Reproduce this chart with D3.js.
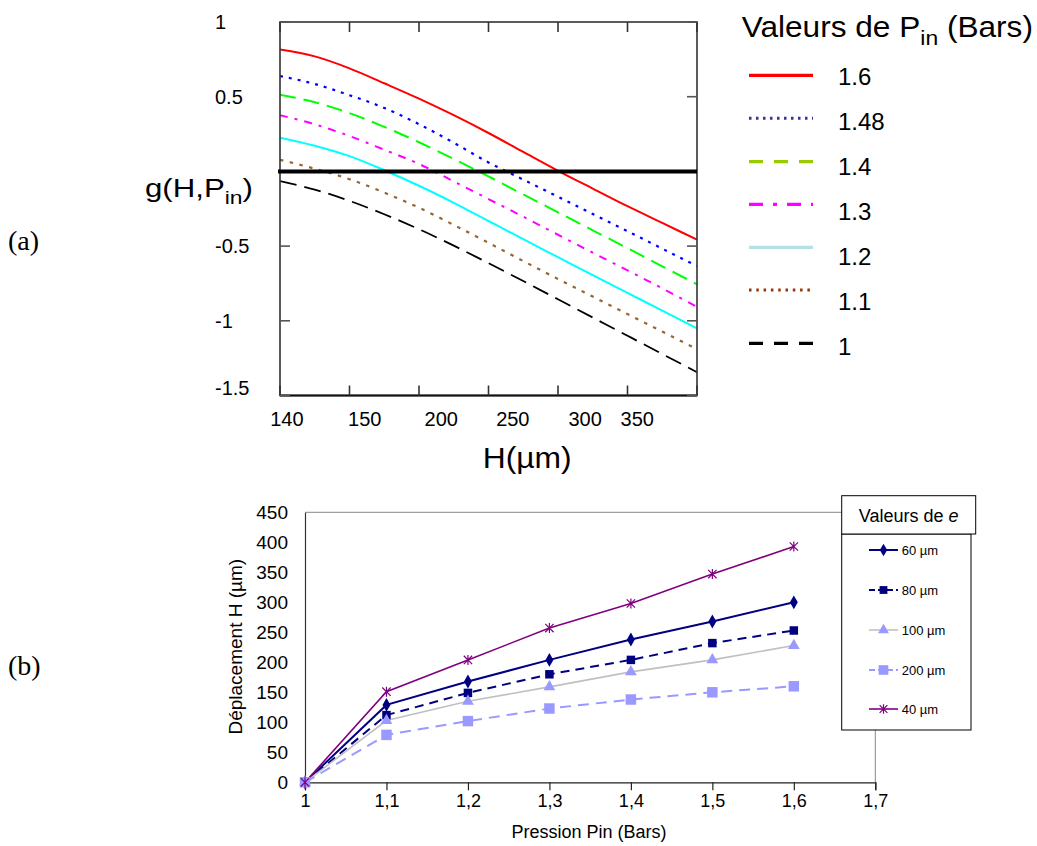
<!DOCTYPE html>
<html><head><meta charset="utf-8">
<script src="https://cdn.jsdelivr.net/npm/d3@7"></script>
<style>
body{margin:0;background:#fff}
svg{display:block}
text{font-family:"Liberation Sans",Arial,sans-serif;fill:#000}
</style>
</head><body>
<svg id="c" width="1037" height="846"></svg>
<script>
// ---------- Panel (a) data ----------
const hPos = [0,0.5,1,1.5,2,2.5,3,3.5,4,4.5,5,5.5,6];          // position along H axis (axis units)
const hTickMarks = [0,1,2,3,4,5,6];
const hTickLabels = ["140","150","200","250","300","350"];
const hTickLabelPos = [0.1,1.22,2.32,3.35,4.39,5.14];
const gTicks = [1,0.5,-0.5,-1,-1.5];
const gTickLabels = ["1","0.5","-0.5","-1","-1.5"];
const pinNames = ["1.6","1.48","1.4","1.3","1.2","1.1","1"];
const g_1_6  = [0.816,0.77,0.69,0.59,0.487,0.376,0.257,0.13,0.004,-0.115,-0.233,-0.345,-0.457];
const g_1_48 = [0.638,0.585,0.51,0.425,0.316,0.192,0.06,-0.055,-0.17,-0.285,-0.40,-0.517,-0.634];
const g_1_4  = [0.513,0.463,0.39,0.298,0.195,0.083,-0.034,-0.154,-0.274,-0.394,-0.514,-0.635,-0.756];
const g_1_3  = [0.376,0.315,0.237,0.145,0.05,-0.067,-0.185,-0.303,-0.424,-0.544,-0.662,-0.783,-0.906];
const g_1_2  = [0.226,0.172,0.102,0.008,-0.096,-0.21,-0.332,-0.454,-0.574,-0.694,-0.813,-0.932,-1.05];
const g_1_1  = [0.078,0.018,-0.052,-0.142,-0.243,-0.358,-0.478,-0.6,-0.72,-0.838,-0.955,-1.072,-1.19];
const g_1_0  = [-0.065,-0.122,-0.197,-0.287,-0.387,-0.497,-0.614,-0.734,-0.856,-0.978,-1.1,-1.222,-1.344];

// ---------- Panel (b) data ----------
const pressure = [1,1.1,1.2,1.3,1.4,1.5,1.6];
const pTicks = [1,1.1,1.2,1.3,1.4,1.5,1.6,1.7];
const pTickLabels = ["1","1,1","1,2","1,3","1,4","1,5","1,6","1,7"];
const hTicksB = [0,50,100,150,200,250,300,350,400,450];
const eNames = ["60 µm","80 µm","100 µm","200 µm","40 µm"];
const H_60  = [0,129,168,204,238,268,300];
const H_80  = [0,112,149,180,204,232,253];
const H_100 = [0,103,135,159,184,204,228];
const H_200 = [0,79,102,123,138,150,160];
const H_40  = [0,151,204,257,298,347,393];

const svg = d3.select("#c");

// helper: text horizontally fitted to a target width
function fitText(g, x0, x1){
  const bw = g.node().getBBox().width;
  const s = (x1-x0)/bw;
  g.attr("transform", g.attr("transform") + ` scale(${s},1)`);
}

// ================= Panel (a) =================
const xa = d3.scaleLinear().domain([0,6]).range([280,697]);
const ya = d3.scaleLinear().domain([-1.5,1]).range([395.5,22]);

svg.append("text").attr("x",8).attr("y",250).style("font-family","'Liberation Serif','Times New Roman',serif")
  .style("font-size","28px").text("(a)");

const A = svg.append("g");
A.append("defs").append("clipPath").attr("id","clipA").append("rect")
  .attr("x",xa(0)).attr("y",ya(1)).attr("width",xa(6)-xa(0)).attr("height",ya(-1.5)-ya(1));

const seriesA = [
  {name:pinNames[0], v:g_1_6,  color:"#ff0000", dash:null,        lw:2,   lc:"#ff0000", ld:null,            llw:3.2},
  {name:pinNames[1], v:g_1_48, color:"#0000ff", dash:"3,6",       lw:2.2, lc:"#333399", ld:"2.5,4.5",       llw:3},
  {name:pinNames[2], v:g_1_4,  color:"#00ff00", dash:"16,8",      lw:2,   lc:"#99cc00", ld:"14,11",         llw:3.2},
  {name:pinNames[3], v:g_1_3,  color:"#ff00ff", dash:"8,7,3,7",   lw:2,   lc:"#ff00ff", ld:"14,10,4,10",    llw:3.2},
  {name:pinNames[4], v:g_1_2,  color:"#00ffff", dash:null,        lw:2,   lc:"#b4e0e6", ld:null,            llw:3.2},
  {name:pinNames[5], v:g_1_1,  color:"#996633", dash:"3.5,6.5",   lw:2.2, lc:"#993300", ld:"2.5,4.8",       llw:3},
  {name:pinNames[6], v:g_1_0,  color:"#000000", dash:"17,8",      lw:1.8, lc:"#000000", ld:"14,11",         llw:3.2}
];

const lineA = d3.line().x((d,i)=>xa(hPos[i])).y(d=>ya(d)).curve(d3.curveMonotoneX);
const curves = A.append("g").attr("clip-path","url(#clipA)");
seriesA.forEach(s=>{
  curves.append("path").attr("d",lineA(s.v)).attr("fill","none")
    .attr("stroke",s.color).attr("stroke-width",s.lw)
    .attr("stroke-dasharray",s.dash);
});

// frame
A.append("rect").attr("x",xa(0)).attr("y",ya(1)).attr("width",xa(6)-xa(0)).attr("height",ya(-1.5)-ya(1))
  .attr("fill","none").attr("stroke","#333").attr("stroke-width",1.6);
A.append("line").attr("x1",xa(0)).attr("x2",xa(6)).attr("y1",ya(-1.5)).attr("y2",ya(-1.5))
  .attr("stroke","#111").attr("stroke-width",2.2);
// x tick marks (inward, top and bottom)
hTickMarks.forEach(t=>{
  A.append("line").attr("x1",xa(t)).attr("x2",xa(t)).attr("y1",ya(1)).attr("y2",ya(1)+10).attr("stroke","#333").attr("stroke-width",1.6);
  A.append("line").attr("x1",xa(t)).attr("x2",xa(t)).attr("y1",ya(-1.5)).attr("y2",ya(-1.5)-10).attr("stroke","#333").attr("stroke-width",1.6);
});
// y tick marks (inward)
gTicks.forEach(t=>{
  if (t!==0.5) A.append("line").attr("x1",xa(0)).attr("x2",xa(0)+10).attr("y1",ya(t)).attr("y2",ya(t)).attr("stroke","#555").attr("stroke-width",1.6);
  A.append("line").attr("x1",xa(6)).attr("x2",xa(6)-10).attr("y1",ya(t)).attr("y2",ya(t)).attr("stroke","#555").attr("stroke-width",1.6);
});
// zero reference line
A.append("line").attr("x1",xa(0)-2).attr("x2",xa(6)).attr("y1",ya(0)).attr("y2",ya(0))
  .attr("stroke","#000").attr("stroke-width",4);

// y tick labels
gTicks.forEach((t,i)=>{
  A.append("text").attr("x",215).attr("y",Math.min(ya(t), ya(-1.5)-8)).attr("dy","0.36em")
    .style("font-size","20px").text(gTickLabels[i]);
});
// x tick labels
hTickLabels.forEach((l,i)=>{
  A.append("text").attr("x",xa(hTickLabelPos[i])).attr("y",426).attr("text-anchor","middle")
    .style("font-size","20px").text(l);
});
// axis titles
{
  const g = A.append("g").attr("transform","translate(145,196.7)");
  const t = g.append("text").style("font-size","26px");
  t.append("tspan").text("g(H,P");
  t.append("tspan").attr("dy",7).style("font-size","19px").text("in");
  t.append("tspan").attr("dy",-7).text(")");
  fitText(g,145,253);
}
{
  const g = A.append("g").attr("transform","translate(482.7,467.7)");
  g.append("text").style("font-size","30px").text("H(µm)");
  fitText(g,482.7,571.7);
}
// legend
{
  const g = A.append("g").attr("transform","translate(741.7,36.7)");
  const t = g.append("text").style("font-size","29px");
  t.append("tspan").text("Valeurs de P");
  t.append("tspan").attr("dy",8).style("font-size","21px").text("in");
  t.append("tspan").attr("dy",-8).text(" (Bars)");
  fitText(g,741.7,1033);
}
const legLineY = [75.3,118.3,161.7,204.3,247.3,290,343.3];
seriesA.forEach((s,i)=>{
  A.append("line").attr("x1",749).attr("x2",813).attr("y1",legLineY[i]).attr("y2",legLineY[i])
    .attr("stroke",s.lc).attr("stroke-width",s.llw).attr("stroke-dasharray",s.ld);
  A.append("text").attr("x",838).attr("y",85+45*i).style("font-size","24px").text(s.name);
});

// ================= Panel (b) =================
svg.append("text").attr("x",8).attr("y",675).style("font-family","'Liberation Serif','Times New Roman',serif")
  .style("font-size","28px").text("(b)");

const xb = d3.scaleLinear().domain([1,1.7]).range([305,875.3]);
const yb = d3.scaleLinear().domain([0,450]).range([782.3,512.3]);
const B = svg.append("g");

// plot border (top & right, grey)
B.append("line").attr("x1",xb(1)).attr("x2",xb(1.7)).attr("y1",yb(450)).attr("y2",yb(450)).attr("stroke","#888").attr("stroke-width",1);
B.append("line").attr("x1",xb(1.7)).attr("x2",xb(1.7)).attr("y1",yb(450)).attr("y2",yb(0)).attr("stroke","#888").attr("stroke-width",1);

// axes
const yAxB = B.append("g").attr("transform",`translate(${xb(1)},0)`)
  .call(d3.axisLeft(yb).tickValues(hTicksB).tickSize(0).tickPadding(17));
yAxB.select(".domain").attr("stroke","#333").attr("stroke-width",1.2);
yAxB.selectAll("text").style("font-size","19px").style("font-family","'Liberation Sans',Arial,sans-serif").attr("fill","#000");

const xAxB = B.append("g").attr("transform",`translate(0,${yb(0)})`)
  .call(d3.axisBottom(xb).tickValues(pTicks).tickSize(8).tickPadding(4).tickFormat((d,i)=>pTickLabels[i]));
xAxB.select(".domain").attr("stroke","#222").attr("stroke-width",1.2);
xAxB.selectAll(".tick line").attr("stroke","#222").attr("stroke-width",1.2);
xAxB.selectAll("text").style("font-size","18px").style("font-family","'Liberation Sans',Arial,sans-serif").attr("fill","#000");

B.append("text").attr("transform","translate(242,646.7) rotate(-90)").attr("text-anchor","middle")
  .style("font-size","19px").text("Déplacement H (µm)");
B.append("text").attr("x",589).attr("y",838).attr("text-anchor","middle")
  .style("font-size","18px").text("Pression Pin (Bars)");

// asterisk symbol
const asterisk = {draw(ctx,size){ const r=Math.sqrt(size)/2;
  ctx.moveTo(-r,-r); ctx.lineTo(r,r); ctx.moveTo(-r,r); ctx.lineTo(r,-r); ctx.moveTo(0,-r*1.2); ctx.lineTo(0,r*1.2);} };

const seriesB = [
  {name:eNames[0], v:H_60,  color:"#000080", dash:null,   lw:2,   sym:d3.symbolDiamond, size:55,  fill:"#000080", stroke:null},
  {name:eNames[1], v:H_80,  color:"#000080", dash:"9,6",  lw:2,   sym:d3.symbolSquare,  size:72,  fill:"#000080", stroke:null},
  {name:eNames[2], v:H_100, color:"#c0c0c0", dash:null,   lw:1.6, sym:d3.symbolTriangle,size:60,  fill:"#9999ff", stroke:null},
  {name:eNames[3], v:H_200, color:"#9999ff", dash:"11,7", lw:2,   sym:d3.symbolSquare,  size:110, fill:"#9999ff", stroke:null},
  {name:eNames[4], v:H_40,  color:"#800080", dash:null,   lw:1.6, sym:asterisk,         size:70,  fill:"none",    stroke:"#800080"}
];
const lineB = d3.line().x((d,i)=>xb(pressure[i])).y(d=>yb(d));
seriesB.forEach(s=>{
  B.append("path").attr("d",lineB(s.v)).attr("fill","none").attr("stroke",s.color)
    .attr("stroke-width",s.lw).attr("stroke-dasharray",s.dash);
});
seriesB.forEach(s=>{
  const sym = d3.symbol().type(s.sym).size(s.size);
  s.v.forEach((d,i)=>{
    B.append("path").attr("d",sym()).attr("transform",`translate(${xb(pressure[i])},${yb(d)})`)
      .attr("fill",s.fill).attr("stroke",s.stroke).attr("stroke-width",s.stroke?1.2:null);
  });
});

// legend (b)
B.append("rect").attr("x",841.7).attr("y",534).attr("width",129.3).attr("height",196).attr("fill","#fff").attr("stroke","#000").attr("stroke-width",1);
B.append("rect").attr("x",841.7).attr("y",495.7).attr("width",134).attr("height",38.3).attr("fill","#fff").attr("stroke","#000").attr("stroke-width",1);
{
  const t = B.append("text").attr("x",908.7).attr("y",521.5).attr("text-anchor","middle").style("font-size","18px");
  t.append("tspan").text("Valeurs de ");
  t.append("tspan").style("font-style","italic").text("e");
}
const legBY = [550,590,630,670,709];
seriesB.forEach((s,i)=>{
  B.append("line").attr("x1",869).attr("x2",898).attr("y1",legBY[i]).attr("y2",legBY[i])
    .attr("stroke",s.color).attr("stroke-width",s.lw).attr("stroke-dasharray",s.dash?"6,3":null);
  const sym = d3.symbol().type(s.sym).size(s.size*0.85);
  B.append("path").attr("d",sym()).attr("transform",`translate(883.5,${legBY[i]})`)
    .attr("fill",s.fill).attr("stroke",s.stroke).attr("stroke-width",s.stroke?1.2:null);
  B.append("text").attr("x",901.7).attr("y",legBY[i]).attr("dy","0.36em").style("font-size","13px").text(s.name);
});
</script>
</body></html>
